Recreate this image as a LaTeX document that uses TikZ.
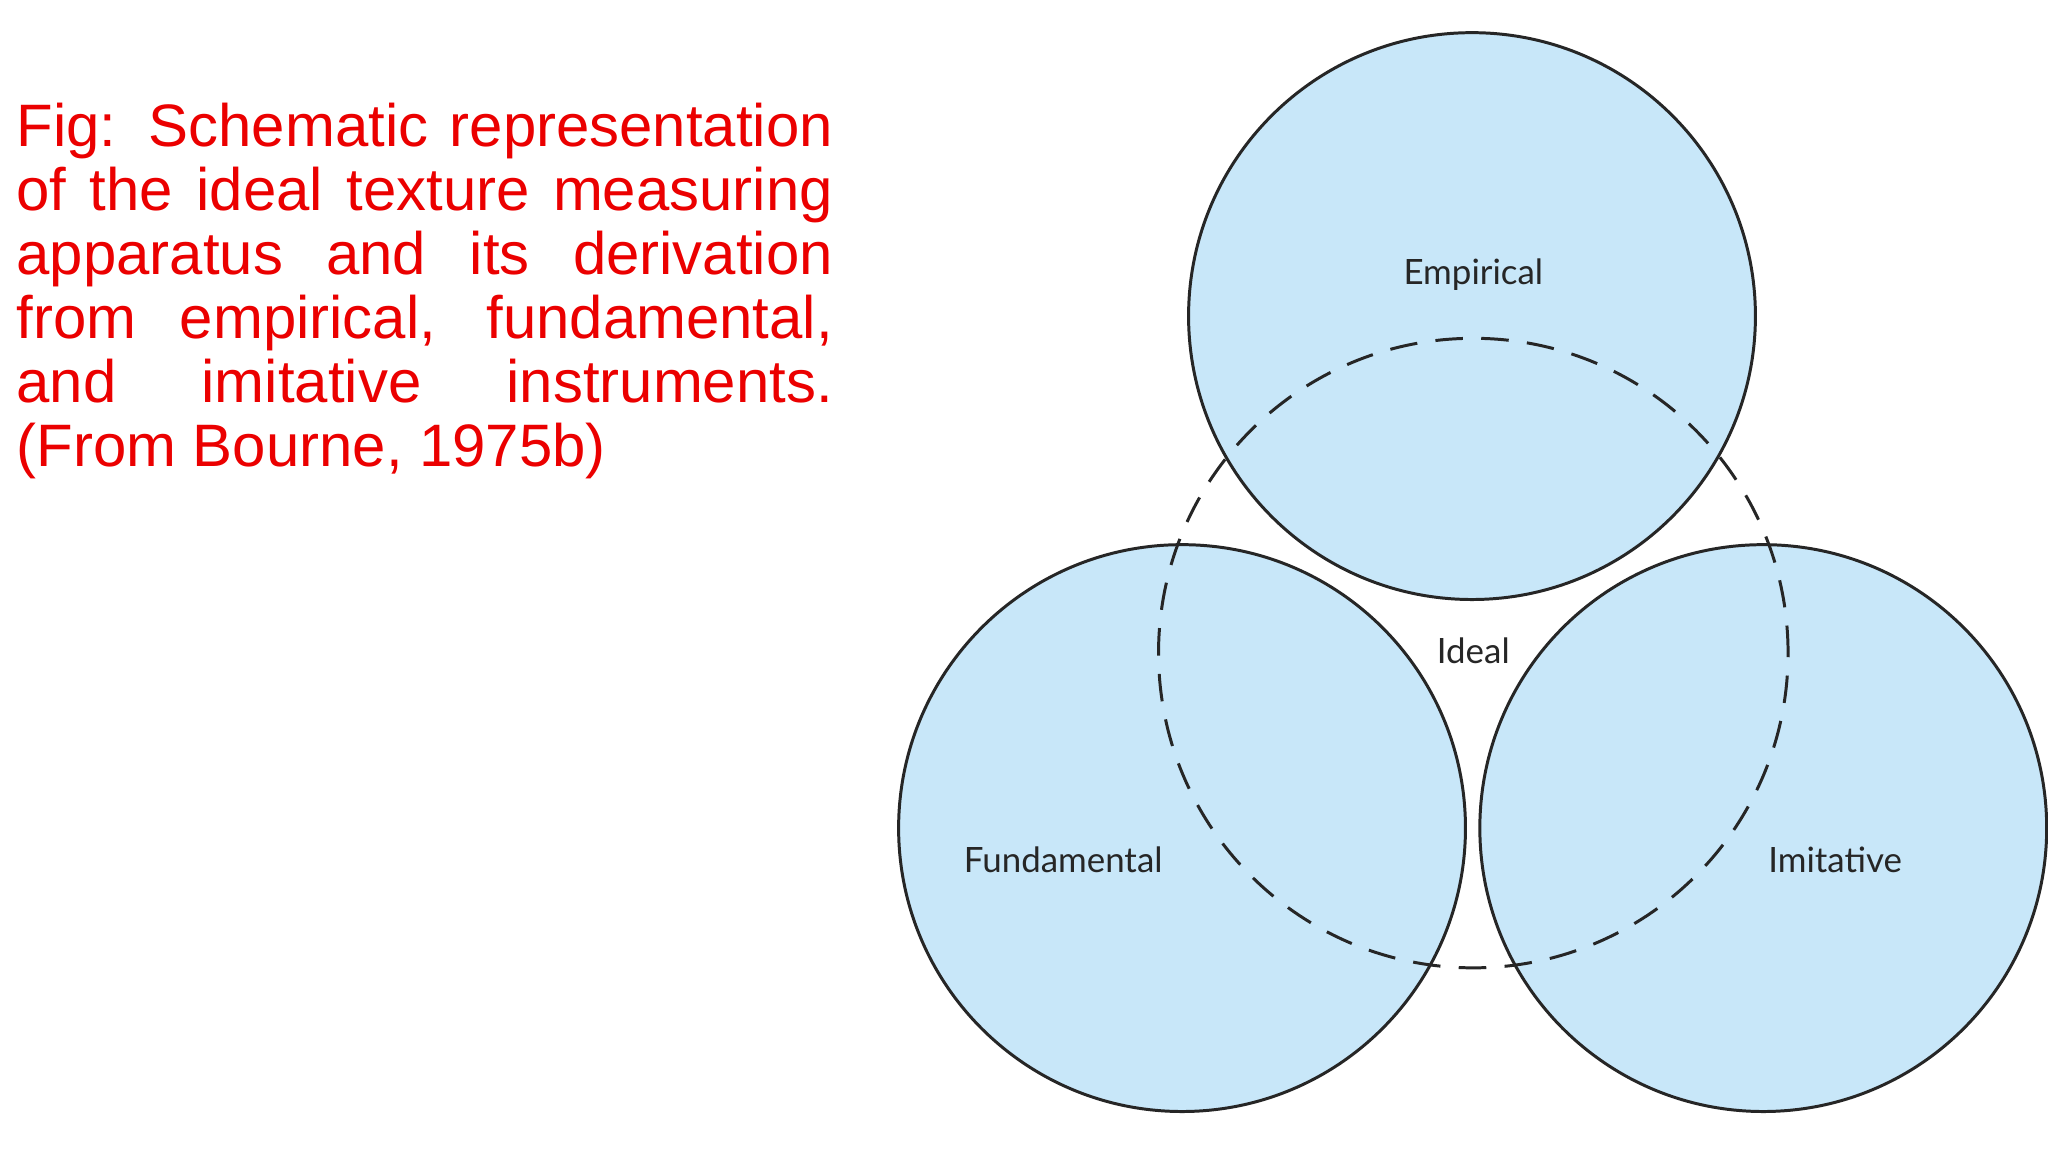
\documentclass[tikz,border=0pt]{standalone}
\usepackage{fontspec}
\setmainfont{Liberation Sans}
\newfontfamily\lblfont{Lato}
\definecolor{cfill}{RGB}{200,231,249}
\definecolor{cred}{RGB}{235,0,0}
\begin{document}
\begin{tikzpicture}[x=0.1mm,y=-0.1mm,
  venn/.style={draw=black!85,line width=0.65pt},
  lbl/.style={font=\lblfont\fontsize{7.6pt}{9pt}\selectfont,text=black!85}]
\useasboundingbox (0,0) rectangle (1568,882);
\fill[white] (0,0) rectangle (1568,882);
\fill[cfill] (1127,242) circle[radius=217mm/10];
\fill[cfill] (905,634) circle[radius=217mm/10];
\fill[cfill] (1350,634) circle[radius=217mm/10];
\draw[venn] (1127,242) circle[radius=217mm/10];
\draw[venn] (905,634) circle[radius=217mm/10];
\draw[venn] (1350,634) circle[radius=217mm/10];
\draw[venn,dash pattern=on 6pt off 4pt] (1128,500) circle[radius=241mm/10];
\node[lbl] (emp) at (1128,210) {Empirical};
\node[lbl] (ide) at (1128,498) {Ideal};
\node[lbl] (fun) at (814,658) {Fundamental};
\node[lbl] (imi) at (1405,658) {Imitative};
\node[anchor=base west,inner sep=0pt,text width=62.5mm,align=justify,text=cred,
  font=\fontsize{13.05pt}{13.95pt}\selectfont] (cap) at (12,112)
  {\hyphenpenalty=10000\emergencystretch=5em Fig: Schematic representation\linebreak of the ideal texture measuring\linebreak apparatus and its derivation\linebreak from empirical, fundamental,\linebreak and imitative instruments.\linebreak (From Bourne, 1975b)};
\end{tikzpicture}
\end{document}
